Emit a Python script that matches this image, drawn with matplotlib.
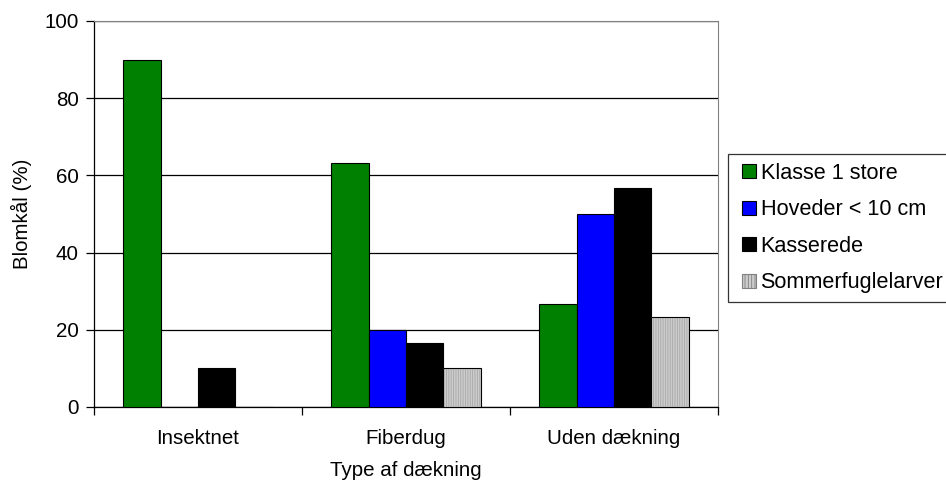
import matplotlib
matplotlib.use("Agg")
import matplotlib.pyplot as plt
from matplotlib.patches import Patch
from matplotlib.legend_handler import HandlerPatch
import numpy as np

plt.rcParams['font.family'] = ['Liberation Sans', 'DejaVu Sans']

categories = ["Insektnet", "Fiberdug", "Uden dækning"]
series_names = ["Klasse 1 store", "Hoveder < 10 cm", "Kasserede", "Sommerfuglelarver"]
klasse1 = [90, 63.3, 26.7]
hoveder = [0, 20, 50]
kasserede = [10, 16.7, 56.7]
sommerfugl = [0, 10, 23.3]
yticks = [0, 20, 40, 60, 80, 100]

series = [klasse1, hoveder, kasserede, sommerfugl]
colors = ["#008000", "#0000FF", "#000000", "#CCCCCC"]

FS = 14.8
fig = plt.figure(figsize=(9.46, 4.84), dpi=100)
ax = fig.add_axes([94/946, 1-407/484, (718-94)/946, (407-21)/484])

x = np.arange(len(categories))
w = 0.18
for i, (vals, c) in enumerate(zip(series, colors)):
    pos = x + (i - 1.5) * w
    vals = np.array(vals)
    if i == 3:
        plt.rcParams['hatch.color'] = '#A8A8A8'
        plt.rcParams['hatch.linewidth'] = 0.6
        ax.bar(pos, vals, w, color=c, edgecolor='#A8A8A8', linewidth=0, hatch='|||||||', zorder=3)
        ax.bar(pos, vals, w, facecolor='none', edgecolor='black', linewidth=0.8, zorder=4)
    else:
        ax.bar(pos, vals, w, color=c, edgecolor='black', linewidth=0.8, zorder=3)

ax.set_ylim(0, 100)
ax.set_xlim(-0.5, 2.5)
ax.set_yticks(yticks)
ax.yaxis.grid(True, color='black', linewidth=0.9, zorder=0)
ax.set_axisbelow(True)
ax.tick_params(axis='y', direction='out', length=6, width=0.9, labelsize=FS, pad=5)
ax.set_xticks([-0.5, 0.5, 1.5, 2.5])
ax.set_xticklabels([])
ax.set_xticks(x, minor=True)
ax.set_xticklabels(categories, minor=True)
ax.tick_params(axis='x', which='major', direction='out', length=6, width=0.9)
ax.tick_params(axis='x', which='minor', length=0, labelsize=FS, pad=16)
for s in ['top', 'right']:
    ax.spines[s].set_color('#808080')
for s in ['left', 'bottom']:
    ax.spines[s].set_color('black')
    ax.spines[s].set_linewidth(0.9)

ax.set_ylabel("Blomkål (%)", fontsize=FS, labelpad=9)
ax.set_xlabel("Type af dækning", fontsize=FS, labelpad=9)


class ShiftedPatch(HandlerPatch):
    def create_artists(self, legend, orig_handle, xdescent, ydescent, width, height, fontsize, trans):
        arts = super().create_artists(legend, orig_handle, xdescent, ydescent, width, height, fontsize, trans)
        for a in arts:
            a.set_x(a.get_x() + 4)
        return arts


handles = []
for i, (n, c) in enumerate(zip(series_names, colors)):
    if i == 3:
        handles.append(Patch(facecolor=c, edgecolor='#808080', hatch='|||||', linewidth=0.8, label=n))
    else:
        handles.append(Patch(facecolor=c, edgecolor='black', linewidth=0.8, label=n))
leg = fig.legend(handles=handles, loc='upper left', bbox_to_anchor=(728/946, 1-154/484),
                 frameon=True, fancybox=False, edgecolor='black', fontsize=15.6,
                 handlelength=0.65, handleheight=0.6, handletextpad=0.45, labelspacing=0.72,
                 borderpad=0.4, borderaxespad=0,
                 handler_map={Patch: ShiftedPatch()})
leg.get_frame().set_linewidth(0.9)

fig.savefig("out.png", dpi=100)
